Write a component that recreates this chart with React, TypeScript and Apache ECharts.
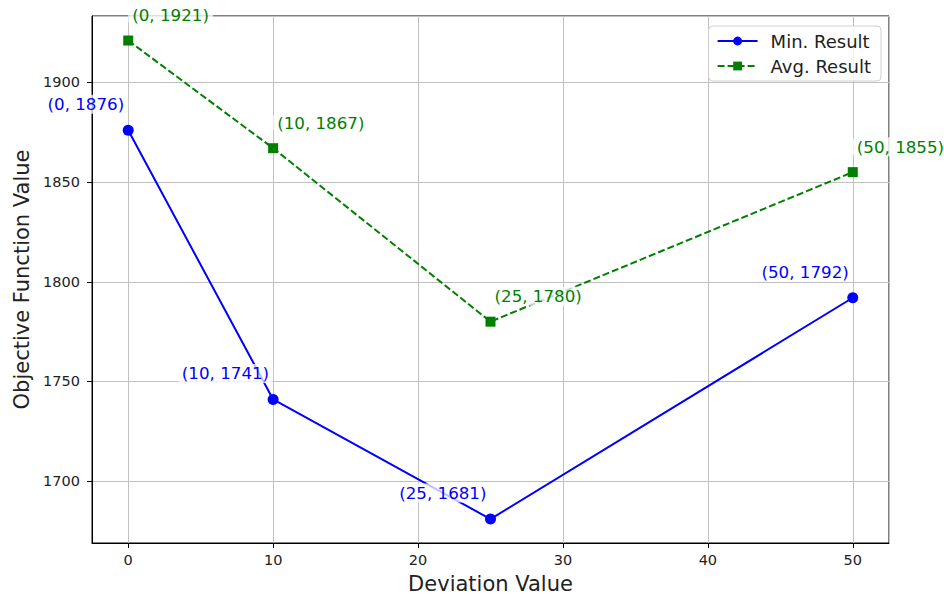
import React, { useEffect, useRef } from "react";
import * as echarts from "echarts";

const deviations = [0, 10, 25, 50];
const minResult = [1876, 1741, 1681, 1792];
const avgResult = [1921, 1867, 1780, 1855];
const seriesNames = ["Min. Result", "Avg. Result"];

const FONT = "DejaVu Sans";

export default function App() {
  const ref = useRef<HTMLDivElement>(null);
  useEffect(() => {
    if (!ref.current) return;
    const chart = echarts.init(ref.current, undefined, { renderer: "svg" });
    const minData = deviations.map((x, i) => [x, minResult[i]]);
    const avgData = deviations.map((x, i) => [x, avgResult[i]]);
    const labelBase = {
      show: true,
      position: "top",
      fontFamily: FONT,
      fontSize: 16.7,
      backgroundColor: "rgba(255,255,255,0.75)",
      borderRadius: 4,
      padding: [1, 4],
      formatter: (p: any) => `(${p.value[0]}, ${p.value[1]})`,
    };
    const hideEdge = (v: number, step: number) =>
      Math.abs(v / step - Math.round(v / step)) < 1e-6 ? String(v) : "";
    chart.setOption({
      animation: false,
      backgroundColor: "#fff",
      textStyle: { fontFamily: FONT },
      grid: {
        left: 92,
        right: 55,
        top: 16,
        bottom: 53,
        outerBoundsMode: "none",
        containLabel: false,
        show: true,
        borderColor: "#000",
        borderWidth: 1,
        backgroundColor: "transparent",
      },
      legend: {
        orient: "vertical",
        right: 63,
        top: 26,
        itemWidth: 40,
        itemHeight: 11,
        itemGap: 7,
        padding: [6, 10, 6, 8],
        backgroundColor: "rgba(255,255,255,0.8)",
        borderColor: "#d0d0d0",
        borderWidth: 1,
        borderRadius: 4,
        textStyle: { fontFamily: FONT, fontSize: 18, color: "#222", padding: [0, 0, 0, 8] },
        data: seriesNames,
      },
      xAxis: {
        type: "value",
        min: -2.5,
        max: 52.5,
        splitNumber: 5,
        minInterval: 10,
        maxInterval: 10,
        name: "Deviation Value",
        nameLocation: "middle",
        nameGap: 30,
        nameTextStyle: { fontFamily: FONT, fontSize: 21, color: "#222" },
        axisLine: { show: true, onZero: false, lineStyle: { color: "#000", width: 1 } },
        axisTick: { show: true, length: 5, lineStyle: { color: "#000" } },
        axisLabel: {
          fontFamily: FONT,
          fontSize: 14.5,
          color: "#222",
          margin: 9,
          showMinLabel: false,
          showMaxLabel: false,
          formatter: (v: number) => hideEdge(v, 10),
        },
        splitLine: { show: true, lineStyle: { color: "#c0c0c0", width: 1 } },
      },
      yAxis: {
        type: "value",
        min: 1669,
        max: 1933.3,
        splitNumber: 5,
        minInterval: 50,
        maxInterval: 50,
        name: "Objective Function Value",
        nameLocation: "middle",
        nameGap: 57,
        nameTextStyle: { fontFamily: FONT, fontSize: 21, color: "#222" },
        axisLine: { show: true, onZero: false, lineStyle: { color: "#000", width: 1 } },
        axisTick: { show: true, length: 5, lineStyle: { color: "#000" } },
        axisLabel: {
          fontFamily: FONT,
          fontSize: 14.5,
          color: "#222",
          margin: 12,
          showMinLabel: false,
          showMaxLabel: false,
          formatter: (v: number) => hideEdge(v, 50),
        },
        splitLine: { show: true, lineStyle: { color: "#c0c0c0", width: 1 } },
      },
      series: [
        {
          name: seriesNames[0],
          type: "line",
          data: minData,
          symbol: "circle",
          symbolSize: 11,
          color: "#0000ff",
          lineStyle: { color: "#0000ff", width: 2 },
          itemStyle: { color: "#0000ff" },
          z: 3,
          label: { ...labelBase, color: "#0000ff", align: "right", distance: 11 },
        },
        {
          name: seriesNames[1],
          type: "line",
          data: avgData,
          symbol: "rect",
          symbolSize: 10,
          color: "#008000",
          lineStyle: { color: "#008000", width: 2, type: [7, 3] },
          itemStyle: { color: "#008000" },
          z: 3,
          label: { ...labelBase, color: "#008000", align: "left", distance: 11 },
        },
      ],
    });
    return () => chart.dispose();
  }, []);
  return <div ref={ref} style={{ width: 944, height: 596, position: "absolute", left: 0, top: 0 }} />;
}
